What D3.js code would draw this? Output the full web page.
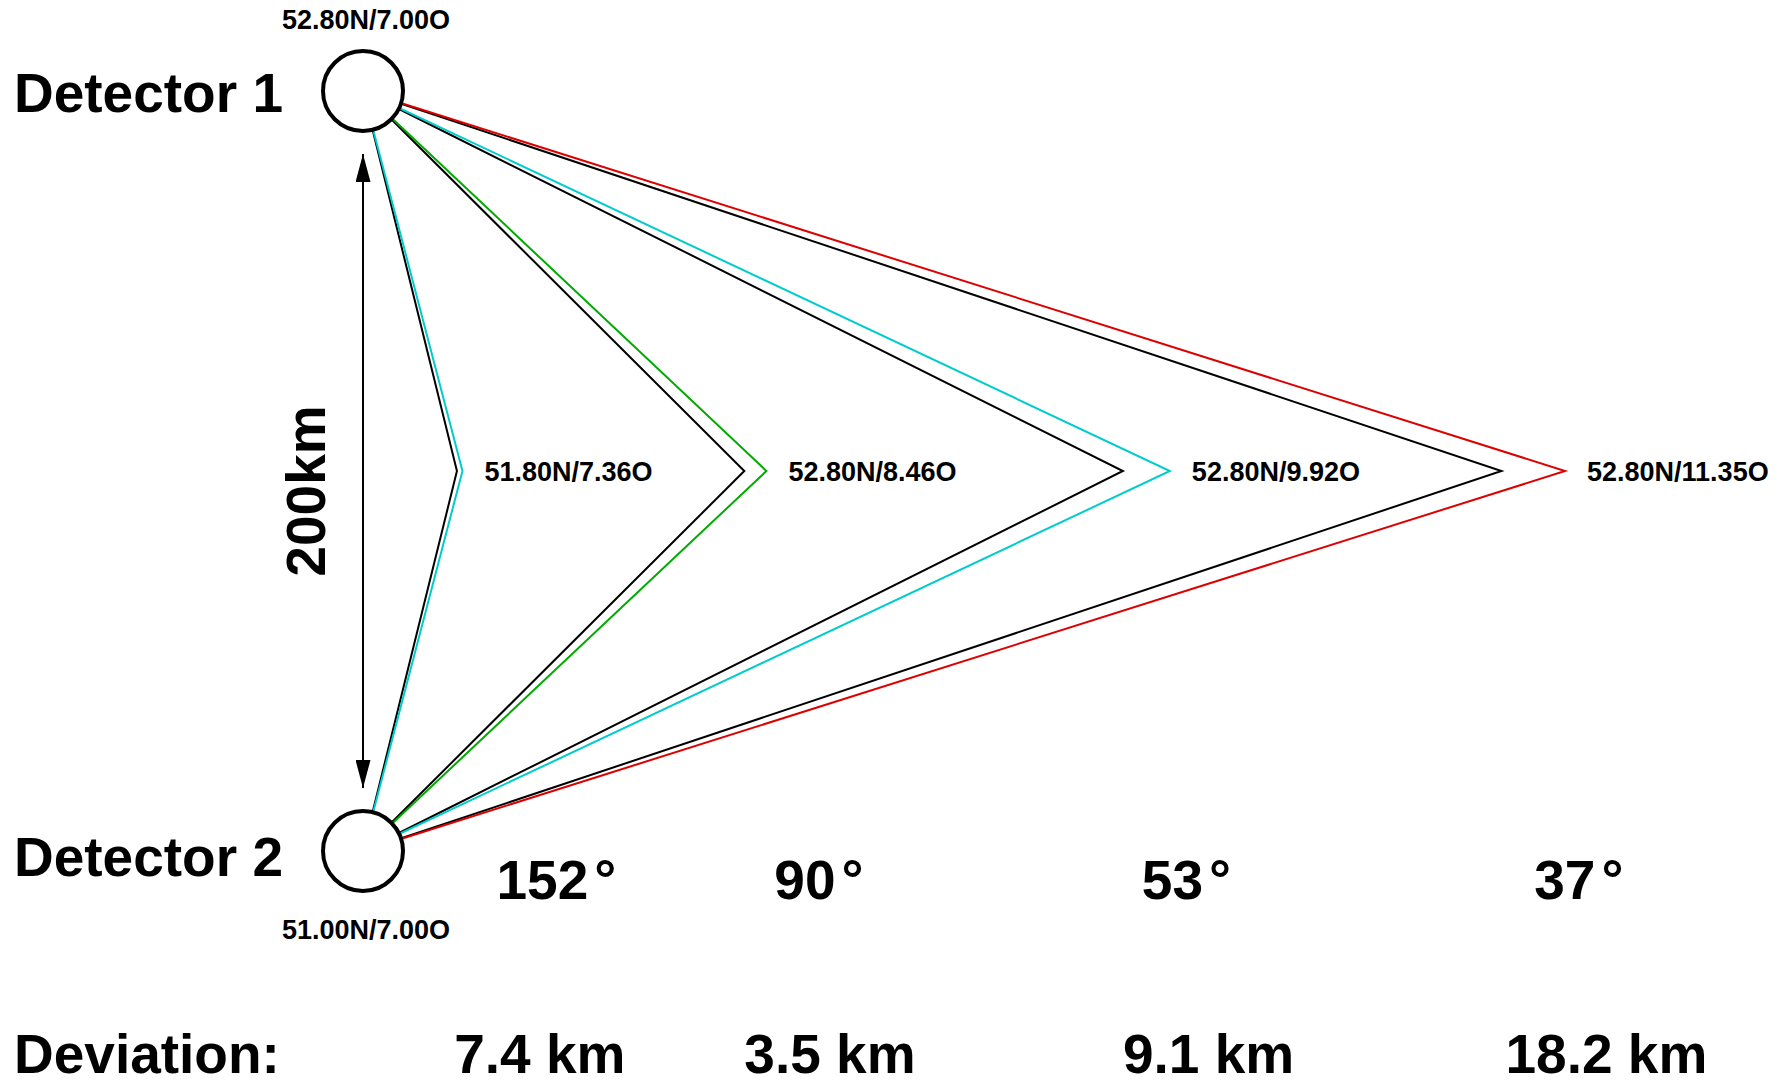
<!DOCTYPE html>
<html>
<head>
<meta charset="utf-8">
<script src="https://cdn.jsdelivr.net/npm/d3@7"></script>
<style>
  body { margin: 0; background: #fff; }
  text { font-family: "Liberation Sans", Arial, sans-serif; font-weight: bold; fill: #000; }
</style>
</head>
<body>
<svg id="chart"></svg>
<script>
const chartWidth = 1782;
const chartHeight = 1085;

// detectors
const detectorNames = ["Detector 1", "Detector 2"];
const detectorLat = [52.80, 51.00];
const detectorLon = [7.00, 7.00];
const detectorLabels = ["52.80N/7.00O", "51.00N/7.00O"];

// source positions (true, coloured) and reconstructed (black)
const sourceLat = [51.90, 51.90, 51.90, 51.90];
const sourceLon = [7.36, 8.46, 9.92, 11.35];
const reconLon = [7.34, 8.38, 9.75, 11.12];
const sourceLabels = ["51.80N/7.36O", "52.80N/8.46O", "52.80N/9.92O", "52.80N/11.35O"];
const sourceColors = ["#00cccc", "#00aa00", "#00cccc", "#dd0000"];

const angleLabels = ["152", "90", "53", "37"];
const angleX = [7.70, 8.65, 9.98, 11.40];
const deviationLabels = ["7.4 km", "3.5 km", "9.1 km", "18.2 km"];
const deviationX = [7.64, 8.69, 10.06, 11.50];
const baselineLabel = "200km";

const CIRCLE_R = 40;
const LINE_W = 2;
const BIG_FONT = 55;
const SMALL_FONT = 27;

let xScale = d3.scaleLinear().domain([7.0, 11.35]).range([363, 1565]);
let yScale = d3.scaleLinear().domain([51.0, 52.8]).range([851, 91]);

let svg = d3.select("#chart")
    .attr("width", chartWidth)
    .attr("height", chartHeight);

svg.append("defs").append("marker")
    .attr("id", "head")
    .attr("viewBox", "0 0 28 15")
    .attr("refX", 28)
    .attr("refY", 7.5)
    .attr("markerWidth", 28)
    .attr("markerHeight", 15)
    .attr("markerUnits", "userSpaceOnUse")
    .attr("orient", "auto-start-reverse")
    .append("path")
    .attr("d", "M0,0 L28,7.5 L0,15 Z")
    .attr("fill", "#000");

let line = d3.line().x(d => xScale(d[0])).y(d => yScale(d[1]));
let lineG = svg.append("g");

// reconstructed (black) paths, then true (coloured) paths
sourceLon.forEach((lon, i) => {
    let pts = [[detectorLon[0], detectorLat[0]], [reconLon[i], sourceLat[i]], [detectorLon[1], detectorLat[1]]];
    lineG.append("path")
        .attr("d", line(pts))
        .attr("fill", "none")
        .attr("stroke", "#000")
        .attr("stroke-width", LINE_W);
    let tpts = [[detectorLon[0], detectorLat[0]], [lon, sourceLat[i]], [detectorLon[1], detectorLat[1]]];
    lineG.append("path")
        .attr("d", line(tpts))
        .attr("fill", "none")
        .attr("stroke", sourceColors[i])
        .attr("stroke-width", LINE_W);
    svg.append("text")
        .attr("x", xScale(lon) + 22)
        .attr("y", yScale(sourceLat[i]) + 10)
        .attr("font-size", SMALL_FONT)
        .text(sourceLabels[i]);
});

// detectors
detectorNames.forEach((name, i) => {
    let cx = xScale(detectorLon[i]), cy = yScale(detectorLat[i]);
    svg.append("circle")
        .attr("cx", cx).attr("cy", cy).attr("r", CIRCLE_R)
        .attr("fill", "#fff").attr("stroke", "#000").attr("stroke-width", 4);
    svg.append("text")
        .attr("x", 14)
        .attr("y", i === 0 ? cy + 21 : cy + 25)
        .attr("font-size", BIG_FONT)
        .text(name);
    svg.append("text")
        .attr("x", cx + 3)
        .attr("y", i === 0 ? cy - 62 : cy + 88)
        .attr("text-anchor", "middle")
        .attr("font-size", SMALL_FONT)
        .text(detectorLabels[i]);
});

// baseline arrow
let ax = xScale(detectorLon[0]);
svg.append("line")
    .attr("x1", ax).attr("x2", ax)
    .attr("y1", yScale(detectorLat[0]) + 63)
    .attr("y2", yScale(detectorLat[1]) - 63)
    .attr("stroke", "#000").attr("stroke-width", 2)
    .attr("marker-start", "url(#head)")
    .attr("marker-end", "url(#head)");

svg.append("text")
    .attr("transform", `translate(325, 491) rotate(-90)`)
    .attr("text-anchor", "middle")
    .attr("font-size", BIG_FONT)
    .text(baselineLabel);

// opening angles
angleLabels.forEach((a, i) => {
    let t = svg.append("text")
        .attr("x", xScale(angleX[i]))
        .attr("y", 899)
        .attr("text-anchor", "middle")
        .attr("font-size", BIG_FONT);
    t.append("tspan").text(a);
    t.append("tspan").attr("dx", 6).text("°");
});

// deviation row
svg.append("text")
    .attr("x", 14).attr("y", 1073)
    .attr("font-size", BIG_FONT)
    .text("Deviation:");
deviationLabels.forEach((d, i) => {
    svg.append("text")
        .attr("x", xScale(deviationX[i]))
        .attr("y", 1073)
        .attr("text-anchor", "middle")
        .attr("font-size", BIG_FONT)
        .text(d);
});
</script>
</body>
</html>
